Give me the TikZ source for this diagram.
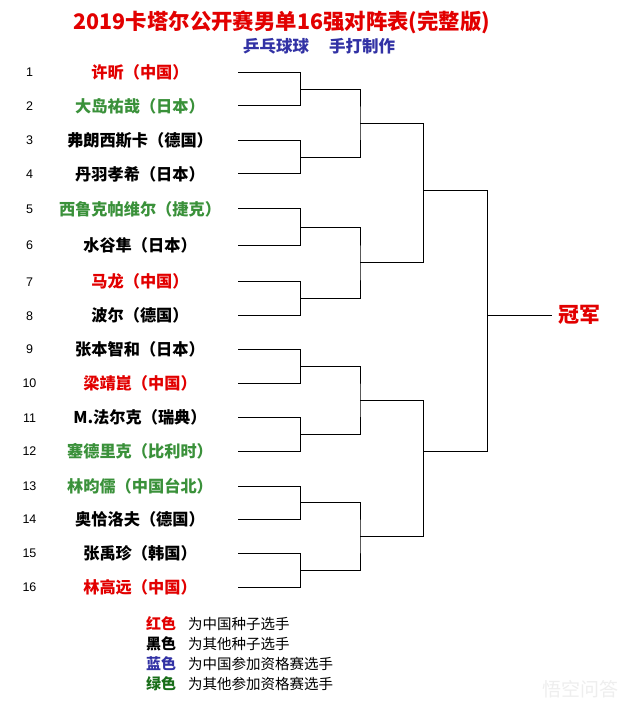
\documentclass[tikz,border=0pt]{standalone}
\usepackage{fontspec}
\setmainfont{Liberation Sans}
\newfontfamily\cjk{Noto Sans CJK SC}
\definecolor{tred}{RGB}{226,0,0}
\definecolor{ngreen}{RGB}{58,145,58}
\definecolor{lgreen}{RGB}{25,110,25}
\definecolor{tblue}{RGB}{50,50,165}
\definecolor{wmark}{RGB}{238,238,238}
\tikzset{
  pname/.style={font=\cjk\bfseries\fontsize{16.2}{16.2}\selectfont, inner sep=0pt, anchor=center},
  pnum/.style={font=\fontsize{12.5}{12.5}\selectfont, inner sep=0pt, anchor=center},
  bline/.style={draw=black, line width=1pt},
  legkey/.style={font=\cjk\bfseries\fontsize{15}{15}\selectfont, inner sep=0pt, anchor=west},
  legtxt/.style={font=\cjk\fontsize{14.5}{14.5}\selectfont, inner sep=0pt, anchor=west},
}
\begin{document}
\begin{tikzpicture}[x=1pt,y=-1pt]
\useasboundingbox (0,0) rectangle (634,711);
\fill[white] (0,0) rectangle (634,711);

% title
\node[font=\cjk\bfseries\fontsize{21.4}{21.4}\selectfont, text=tred, inner sep=0pt] (title) at (282,22) {2019卡塔尔公开赛男单16强对阵表(完整版)};
\node[font=\cjk\bfseries\fontsize{16.5}{16.5}\selectfont, text=tblue, inner sep=0pt] (sub) at (319,46) {乒乓球球\hspace{20pt}手打制作};

% players
\foreach \i/\y/\c/\t in {
 1/72.3/tred/许昕（中国）,
 2/106/ngreen/大岛祐哉（日本）,
 3/140.3/black/弗朗西斯卡（德国）,
 4/174/black/丹羽孝希（日本）,
 5/209/ngreen/西鲁克帕维尔（捷克）,
 6/245/black/水谷隼（日本）,
 7/281.7/tred/马龙（中国）,
 8/315.7/black/波尔（德国）,
 9/349.3/black/张本智和（日本）,
 10/383.3/tred/梁靖崑（中国）,
 11/417.7/black/M.法尔克（瑞典）,
 12/451/ngreen/塞德里克（比利时）,
 13/486/ngreen/林昀儒（中国台北）,
 14/519.3/black/奥恰洛夫（德国）,
 15/553.3/black/张禹珍（韩国）,
 16/587.3/tred/林高远（中国）}
{
  \node[pnum] (num\i) at (29.5,\y) {\i};
  \node[pname, text=\c] (name\i) at (140,\y) {\t};
  \coordinate (p\i) at (238,\y);
}

% round 1 junctions
\coordinate (q1) at (300.5,89.15);
\coordinate (q2) at (300.5,157.15);
\coordinate (q3) at (300.5,227);
\coordinate (q4) at (300.5,298.7);
\coordinate (q5) at (300.5,366.3);
\coordinate (q6) at (300.5,434.35);
\coordinate (q7) at (300.5,502.65);
\coordinate (q8) at (300.5,570.3);
% round 2 junctions
\coordinate (r1) at (360,123.15);
\coordinate (r2) at (360,262.85);
\coordinate (r3) at (360,400.3);
\coordinate (r4) at (360,536.5);
% round 3 junctions
\coordinate (s1) at (423.5,191);
\coordinate (s2) at (423.5,451.3);
% final junction
\coordinate (f) at (487.5,315);

\draw[bline] (p1) -| (q1) |- (p2);
\draw[bline] (p3) -| (q2) |- (p4);
\draw[bline] (p5) -| (q3) |- (p6);
\draw[bline] (p7) -| (q4) |- (p8);
\draw[bline] (p9) -| (q5) |- (p10);
\draw[bline] (p11) -| (q6) |- (p12);
\draw[bline] (p13) -| (q7) |- (p14);
\draw[bline] (p15) -| (q8) |- (p16);

\draw[bline] (q1) -| (r1) |- (q2);
\draw[bline] (q3) -| (r2) |- (q4);
\draw[bline] (q5) -| (r3) |- (q6);
\draw[bline] (q7) -| (r4) |- (q8);

\draw[bline] (r1) -| (s1) |- (r2);
\draw[bline] (r3) -| (s2) |- (r4);

\draw[bline] (s1) -| (f) |- (s2);

\node[font=\cjk\bfseries\fontsize{21}{21}\selectfont, text=tred, anchor=west, inner xsep=6pt, inner ysep=0pt] (champ) at (552,315) {冠军};
\draw[bline] (f) -- (champ.west);

% legend
\node[legkey, text=tred] (k1) at (146,624) {红色};
\node[legtxt] (d1) at (188,624) {为中国种子选手};
\node[legkey, text=black] (k2) at (146,644) {黑色};
\node[legtxt] (d2) at (188,644) {为其他种子选手};
\node[legkey, text=tblue] (k3) at (146,664) {蓝色};
\node[legtxt] (d3) at (188,664) {为中国参加资格赛选手};
\node[legkey, text=lgreen] (k4) at (146,684) {绿色};
\node[legtxt] (d4) at (188,684) {为其他参加资格赛选手};

% watermark
\node[font=\cjk\fontsize{19}{19}\selectfont, text=wmark, inner sep=0pt, anchor=west] (wm) at (542,689) {悟空问答};
\end{tikzpicture}
\end{document}
